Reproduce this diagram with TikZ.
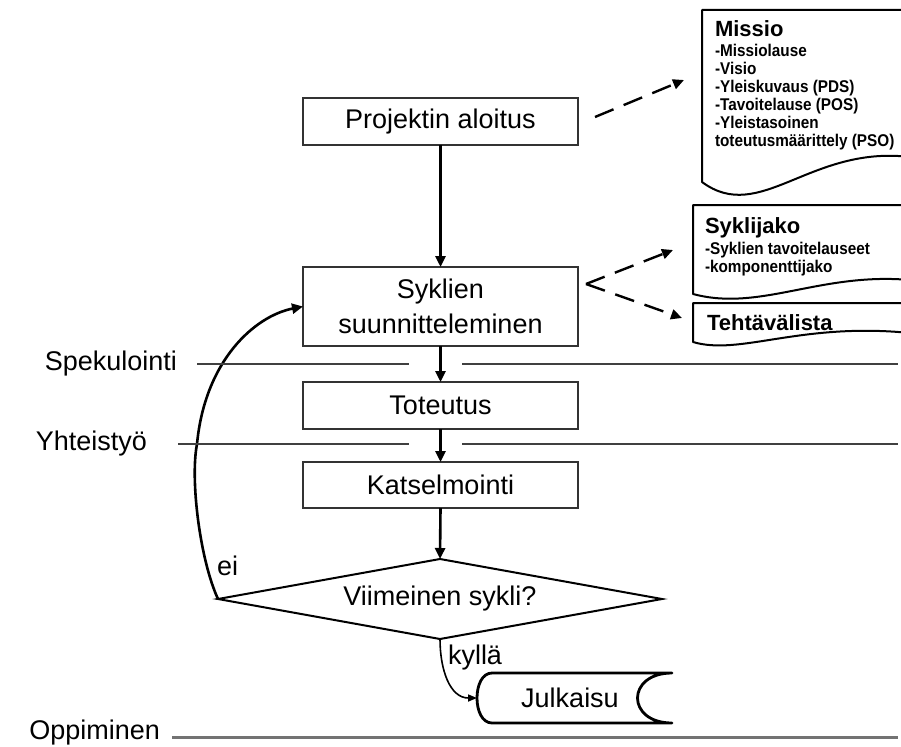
\documentclass[tikz,border=0pt]{standalone}
\usepackage{fontspec}
\setmainfont{Liberation Sans}
\newfontfamily\docfont[FakeStretch=0.9]{Liberation Sans}
\usetikzlibrary{arrows.meta,shapes.geometric}
\begin{document}
\begin{tikzpicture}[x=1pt,y=-1pt,
  every node/.style={inner sep=0pt, outer sep=0pt},
  txt/.style={font=\fontsize{27}{35}\selectfont},
  stepbox/.style={draw=black!80, line width=1.4pt, minimum width=275pt, txt, align=center},
  flow/.style={line width=2.6pt, -{Triangle[length=11pt,width=10pt]}},
  dasharrow/.style={line width=2.4pt, dash pattern=on 20pt off 11pt, -{Triangle[length=11pt,width=10pt]}},
  sepline/.style={draw=black!75, line width=1.3pt},
  doc/.style={draw=black, line width=2pt, line join=round},
  doctitle/.style={font=\bfseries\fontsize{22}{24}\selectfont, anchor=base west},
  docitems/.style={font=\docfont\bfseries\fontsize{17}{18}\selectfont, align=left, anchor=north west},
]
\useasboundingbox (0,0) rectangle (901,746);
\clip (0,0) rectangle (901,746);

% process steps
\node[stepbox, minimum height=47pt] (proj) at (440.5,121.5) {Projektin aloitus};
\node[stepbox, minimum height=79pt] (plan) at (440.5,306.5) {Syklien\\suunnitteleminen};
\node[stepbox, minimum height=47pt] (impl) at (440.5,405.5) {Toteutus};
\node[stepbox, minimum height=46pt] (rev) at (440.5,485) {Katselmointi};
\node[draw, line width=2pt, diamond, aspect=5.55, minimum width=444pt, minimum height=80pt, txt] (dec) at (440,599) {Viimeinen sykli?};

% release (stored data shape)
\node[txt] (pub) at (570,698) {Julkaisu};
\draw[line width=2.8pt, line join=round] (492,673) -- (672,673) .. controls (626,673) and (626,723) .. (672,723) -- (492,723) .. controls (472,723) and (472,673) .. (492,673) -- cycle;
\coordinate (pubL) at (477,698);

% main flow
\draw[flow] (proj.south) -- (plan.north);
\draw[flow] (plan.south) -- (impl.north);
\draw[flow] (impl.south) -- (rev.north);
\draw[flow] (rev.south) -- (dec.north);
\draw[flow] (dec.west) .. controls (200,560) and (190,480) .. (197,444) .. controls (205,360) and (255,316) .. (plan.west);
\draw[line width=1.6pt, -{Triangle[length=9pt,width=7pt]}] (dec.south) .. controls (440,670) and (450,698) .. (pubL);
\node[txt, anchor=base west] (no) at (217,575) {ei};
\node[txt, anchor=base west] (yes) at (448,664) {kyllä};

% phase separators
\node[txt, anchor=base east] (spek) at (177,370) {Spekulointi};
\draw[sepline] (197,364) -- (409,364);
\draw[sepline] (462,364) -- (898,364);
\node[txt, anchor=base east] (coop) at (147,450) {Yhteistyö};
\draw[sepline] (178,444) -- (409,444);
\draw[sepline] (462,444) -- (898,444);
\node[txt, anchor=base east] (learn) at (160,739) {Oppiminen};
\draw[draw=black!55, line width=3pt] (172,737) -- (898,737);

% documents
\draw[doc] (925,10) -- (702,10) -- (702,182) .. controls (760,225) and (810,145) .. (910,157) -- (925,157);
\node[doctitle] (mission) at (715,37) {Missio};
\node[docitems] (missionlist) at (715,44) {-Missiolause\\-Visio\\-Yleiskuvaus (PDS)\\-Tavoitelause (POS)\\-Yleistasoinen\\toteutusmäärittely (PSO)};

\draw[doc] (925,205) -- (693,205) -- (693,294) .. controls (760,312) and (820,272) .. (910,280) -- (925,280);
\node[doctitle] (cyc) at (705,233) {Syklijako};
\node[docitems] (cyclist) at (705,242) {-Syklien tavoitelauseet\\-komponenttijako};

\draw[doc] (925,303) -- (693,303) -- (693,342) .. controls (740,356) and (800,322) .. (910,333) -- (925,333);
\node[doctitle] (tasks) at (707,330) {Tehtävälista};

% document outputs
\coordinate (projOut) at (595,117);
\coordinate (missionTip) at (684,80);
\coordinate (fork) at (586,284);
\coordinate (cycTip) at (673,250);
\coordinate (taskTip) at (682,318);
\draw[dasharrow] (projOut) -- (missionTip);
\draw[dasharrow] (fork) -- (cycTip);
\draw[dasharrow] (fork) -- (taskTip);
\end{tikzpicture}
\end{document}
